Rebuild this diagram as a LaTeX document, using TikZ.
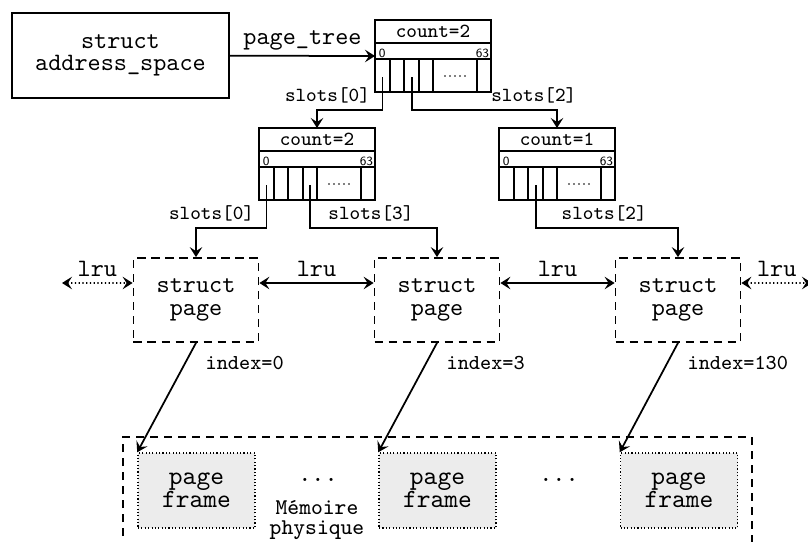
\documentclass[tikz,border=0pt]{standalone}
\usetikzlibrary{arrows.meta}
\newcommand\tightlines{\lineskiplimit=-20pt\relax}
\begin{document}
\begin{tikzpicture}[x=0.4pt,y=-0.4pt,line width=0.7pt,
  >={Stealth[length=4pt,width=5pt,inset=1.6pt]},
  asbox/.style={draw,minimum width=86.8pt,minimum height=34pt,align=center,
    font={\fontsize{10}{9}\selectfont\ttfamily\tightlines}},
  pagebox/.style={draw,dash pattern=on 3.3pt off 2.3pt,minimum width=50pt,minimum height=33.6pt,
    align=center,font={\fontsize{10}{9}\selectfont\ttfamily\tightlines}},
  framebox/.style={draw,fill=gray!15,dash pattern=on 0.45pt off 0.9pt,line width=0.6pt,
    minimum width=46.8pt,minimum height=30pt,align=center,
    font={\fontsize{10.5}{9}\selectfont\ttfamily\tightlines}},
  lbl/.style={font=\ttfamily,inner sep=2pt},
  slotlbl/.style={font=\fontsize{8}{9}\selectfont\ttfamily,inner sep=2.5pt},
  numlbl/.style={font=\fontsize{5}{6}\selectfont\sffamily,inner sep=0.4pt},
  idxlbl/.style={font=\fontsize{8.5}{9}\selectfont\ttfamily,anchor=north west,inner sep=2pt,xshift=1.5pt,yshift=-3pt},
  lrudot/.style={<->,dash pattern=on 0.5pt off 1pt}]
	\useasboundingbox (0,0) rectangle (808,541);
	\tikzset{
	pics/radix/.style args={#1}{code={
	\draw (0,0) rectangle (116,72);
	\draw (0,23) -- (116,23) (0,39) -- (116,39);
	\foreach \sx in {15,29,44,58,102} \draw (\sx,39) -- (\sx,72);
	\foreach \dx in {70,75,80,85,90} \fill (\dx,56) circle (0.35pt);
	\node[font=\fontsize{8}{9}\selectfont\ttfamily] (-cnt) at (58,11.5) {count=#1};
	\node[numlbl,anchor=base west] (-lo) at (2,37) {0};
	\node[numlbl,anchor=base east] (-hi) at (116,37) {63};
	\coordinate (-in) at (0,36);
	\coordinate (-top) at (58,0);
	\coordinate (-s0) at (7.5,57);
	\coordinate (-s2) at (37,57);
	\coordinate (-s3) at (51,57);
	},
	}
	}

	%address space + tree
	\node[asbox] (as) at (120.5,55.5) {struct\\address\_space};
	\pic (root) at (375,20) {radix={2}};
	\pic (left) at (259,128) {radix={2}};
	\pic (right) at (499,128) {radix={1}};

	\draw[->] (as) -- node[lbl,above] (pt) {page\_tree} (root-in);
	\draw[->] (root-s0) -- ++(0,33) -| node[slotlbl,pos=0.42,above] (rl0) {slots[0]} (left-top);
	\draw[->] (root-s2) -- ++(0,33) -| node[slotlbl,pos=0.42,above] (rl2) {slots[2]} (right-top);

	%struct page
	\node[pagebox] (p0) at (196,300) {struct\\page};
	\node[pagebox] (p3) at (437,300) {struct\\page};
	\node[pagebox] (p130) at (678,300) {struct\\page};

	\draw[->] (left-s0) -- ++(0,43) -| node[slotlbl,pos=0.39,above] (ll0) {slots[0]} (p0);
	\draw[->] (left-s3) -- ++(0,43) -| node[slotlbl,pos=0.24,above] (ll3) {slots[3]} (p3);
	\draw[->] (right-s2) -- ++(0,43) -| node[slotlbl,pos=0.24,above] (lr2) {slots[2]} (p130);

	%lru
	\coordinate (lruL) at (62,283);
	\coordinate (lruR) at (812,283);
	\draw[lrudot] (lruL) -- node[lbl,above] (lru0) {lru} ([yshift=6.8pt]p0.west);
	\draw[<->] ([yshift=6.8pt]p0.east) -- node[lbl,above] (lru1) {lru} ([yshift=6.8pt]p3.west);
	\draw[<->] ([yshift=6.8pt]p3.east) -- node[lbl,above] (lru2) {lru} ([yshift=6.8pt]p130.west);
	\draw[lrudot] ([yshift=6.8pt]p130.east) -- node[lbl,above] (lru3) {lru} (lruR);

	%physical memory
	\draw[dash pattern=on 3.3pt off 2.3pt] (123,550) -- (123,437) -- (752,437) -- (752,550);
	\node[framebox] (f0) at (196.5,490.5) {page\\frame};
	\node[framebox] (f3) at (437.5,490.5) {page\\frame};
	\node[framebox] (f130) at (679,490.5) {page\\frame};
	\node[font=\ttfamily] (dots1) at (318,480) {...};
	\node[font=\ttfamily] (dots2) at (559,480) {...};
	\node[align=center,font={\fontsize{9}{8.2}\selectfont\ttfamily\tightlines}] (mem) at (317,520) {Mémoire\\physique};

	\draw[->] (p0.south) node[idxlbl] (i0) {index=0} -- (f0.north west);
	\draw[->] (p3.south) node[idxlbl] (i3) {index=3} -- (f3.north west);
	\draw[->] (p130.south) node[idxlbl] (i130) {index=130} -- (f130.north west);
\end{tikzpicture}
\end{document}
